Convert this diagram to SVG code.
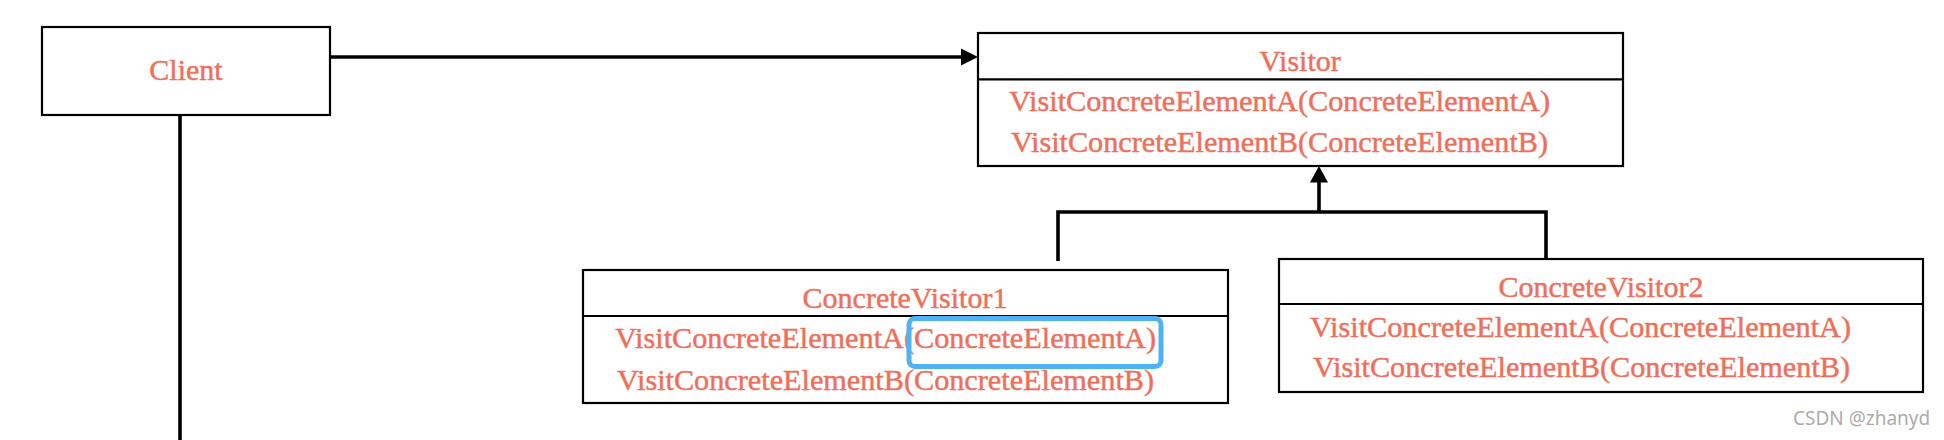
<svg xmlns="http://www.w3.org/2000/svg" width="1944" height="440" viewBox="0 0 1944 440">
<style>
.box{fill:#ffffff;stroke:#000000;stroke-width:2.2}
.div{stroke:#000000;stroke-width:2.2}
.t{font-family:"Liberation Serif","Times New Roman",serif;font-size:30px;fill:#EE6F5A;stroke:#EE6F5A;stroke-width:0.45}
.c{text-anchor:middle}
.conn{fill:none;stroke:#000000;stroke-width:3.6;stroke-linejoin:miter}
.head{fill:#000000;stroke:none}
.wm{font-family:"Noto Sans","DejaVu Sans",sans-serif;font-size:19px;fill:#ababab}
</style>
<rect width="1944" height="440" fill="#ffffff"/>
<g id="connectors">
<line class="conn" x1="330" y1="57" x2="962" y2="57"/>
<polygon class="head" points="961,48.5 978,57 961,65.5"/>
<line class="conn" x1="180" y1="114" x2="180" y2="440"/>
<line class="conn" x1="1319" y1="212" x2="1319" y2="180"/>
<polygon class="head" points="1319,166 1310,182.5 1328,182.5"/>
<polyline class="conn" points="1058,261 1058,212 1546,212 1546,259"/>
</g>
<g id="client">
<rect class="box" x="42" y="27" width="288" height="88"/>
<text class="t c" x="186" y="80">Client</text>
</g>
<g id="visitor">
<rect class="box" x="978" y="33" width="645" height="133"/>
<line class="div" x1="978" y1="79.3" x2="1623" y2="79.3"/>
<text class="t c" x="1300" y="71">Visitor</text>
<text class="t" x="1009" y="110.7" textLength="541" lengthAdjust="spacingAndGlyphs">VisitConcreteElementA(ConcreteElementA)</text>
<text class="t" x="1011" y="151.7" textLength="537" lengthAdjust="spacingAndGlyphs">VisitConcreteElementB(ConcreteElementB)</text>
</g>
<g id="concretevisitor1">
<rect class="box" x="583" y="270" width="645" height="133"/>
<line class="div" x1="583" y1="316" x2="1228" y2="316"/>
<text class="t c" x="905" y="308">ConcreteVisitor1</text>
<text class="t" x="615" y="348.3" textLength="541" lengthAdjust="spacingAndGlyphs">VisitConcreteElementA(ConcreteElementA)</text>
<text class="t" x="617" y="390" textLength="537" lengthAdjust="spacingAndGlyphs">VisitConcreteElementB(ConcreteElementB)</text>
<rect x="909" y="318.5" width="252" height="48" rx="6" ry="6" fill="none" stroke="#4FB3F3" stroke-width="5"/>
</g>
<g id="concretevisitor2">
<rect class="box" x="1279" y="259" width="644" height="133"/>
<line class="div" x1="1279" y1="304" x2="1923" y2="304"/>
<text class="t c" x="1601" y="297">ConcreteVisitor2</text>
<text class="t" x="1310" y="336.7" textLength="541" lengthAdjust="spacingAndGlyphs">VisitConcreteElementA(ConcreteElementA)</text>
<text class="t" x="1313" y="377" textLength="537" lengthAdjust="spacingAndGlyphs">VisitConcreteElementB(ConcreteElementB)</text>
</g>
<text class="wm" x="1793" y="425">CSDN @zhanyd</text>
</svg>
